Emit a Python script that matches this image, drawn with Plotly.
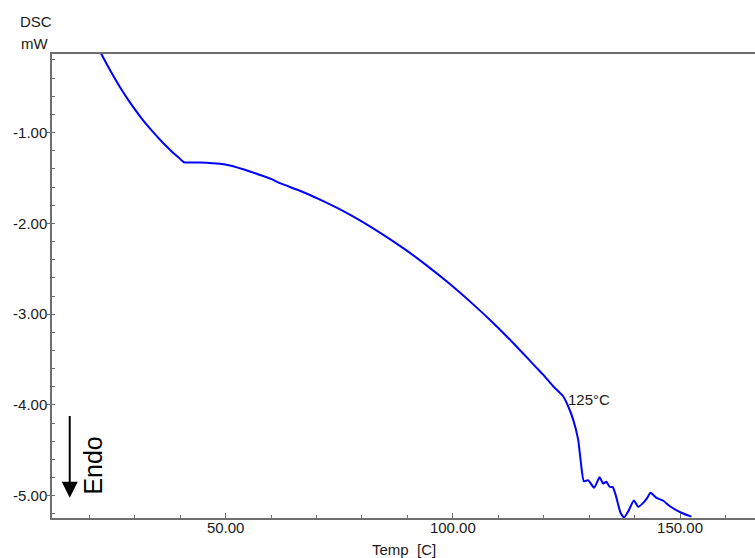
import plotly.graph_objects as go

temp = [22.56, 24.76, 26.96, 29.16, 31.36, 33.56, 35.76, 37.96, 39.72, 40.82, 44.35, 48.75,
        50.95, 55.35, 60.12, 61.95, 66.35, 71.47, 76.62, 82.47, 89.08, 94.22, 99.35, 104.48,
        108.88, 113.28, 116.95, 119.15, 119.88, 122.08, 124.28, 125.38, 126.48, 127.58, 128.1,
        128.83, 129.8, 131.1, 132.3, 133.08, 133.8, 134.5, 135.2, 135.8, 136.9, 137.7,
        138.6, 139.84, 140.78, 141.9, 142.8, 143.5, 144.8, 146.4, 147.7, 150.3, 152.5]
dsc = [-0.127, -0.330, -0.517, -0.684, -0.834, -0.968, -1.089, -1.199, -1.278, -1.326,
       -1.330, -1.344, -1.363, -1.429, -1.513, -1.557, -1.640, -1.754, -1.883, -2.054,
       -2.272, -2.462, -2.668, -2.892, -3.097, -3.317, -3.512, -3.629, -3.666, -3.794,
       -3.904, -4.014, -4.161, -4.381, -4.600, -4.839, -4.830, -4.912, -4.797, -4.866,
       -4.846, -4.901, -4.905, -4.985, -5.187, -5.239, -5.172, -5.052, -5.122, -5.078,
       -5.023, -4.968, -5.023, -5.058, -5.113, -5.187, -5.230]

x_ticks = [50, 100, 150]
y_ticks = [-1, -2, -3, -4, -5]

font = "Liberation Sans, Arial, sans-serif"
axis_col = "#6e6e6e"

fig = go.Figure()
fig.add_trace(go.Scatter(x=temp, y=dsc, mode="lines",
                         line=dict(color="#0000ff", width=2, shape="spline", smoothing=0.5),
                         hoverinfo="skip"))

fig.update_layout(
    width=755, height=558,
    margin=dict(l=52, r=0, t=54, b=40, autoexpand=False),
    paper_bgcolor="white", plot_bgcolor="white",
    showlegend=False,
    font=dict(family=font, size=15, color="#1a1a1a"),
)
fig.update_xaxes(
    range=[11.78, 166.5], showgrid=False, zeroline=False,
    showline=True, linecolor=axis_col, linewidth=1.5, mirror=True,
    tickvals=x_ticks, ticktext=[f"{v:.2f}" for v in x_ticks],
    ticks="inside", ticklen=5, tickcolor=axis_col,
    minor=dict(dtick=10, tick0=0, ticks="inside", ticklen=3, tickcolor=axis_col),
    tickfont=dict(family=font, size=15, color="#1a1a1a"),
    ticklabelstandoff=-5,
)
fig.update_yaxes(
    range=[-5.245, -0.134], showgrid=False, zeroline=False,
    showline=True, linecolor=axis_col, linewidth=1.5,
    tickvals=y_ticks, ticktext=[f"{v:.2f}" for v in y_ticks],
    ticks="outside", ticklen=3, tickcolor=axis_col,
    minor=dict(dtick=0.2, tick0=0, ticks="inside", ticklen=3, tickcolor=axis_col),
    tickfont=dict(family=font, size=15, color="#1a1a1a"),
    ticklabelstandoff=-3,
)

# axis labels
fig.add_annotation(text="DSC", xref="paper", yref="paper", x=0, y=1,
                   xanchor="left", yanchor="middle", xshift=-34, yshift=33,
                   showarrow=False, font=dict(family=font, size=15, color="#1a1a1a"))
fig.add_annotation(text="mW", xref="paper", yref="paper", x=0, y=1,
                   xanchor="left", yanchor="middle", xshift=-33, yshift=11,
                   showarrow=False, font=dict(family=font, size=15, color="#1a1a1a"))
fig.add_annotation(text="Temp  [C]", xref="paper", yref="paper", x=0.5, y=0,
                   xanchor="center", yanchor="middle", yshift=-31,
                   showarrow=False, font=dict(family=font, size=15, color="#1a1a1a"))

# peak label
fig.add_annotation(text="125°C", x=125.0, y=-3.943, xanchor="left", yanchor="middle",
                   showarrow=False, font=dict(family=font, size=15, color="#1a1a1a"))

# Endo arrow and label
fig.add_annotation(x=15.68, y=-5.022, ax=15.68, ay=-4.106, axref="x", ayref="y",
                   xref="x", yref="y", text="", showarrow=True,
                   arrowhead=2, arrowsize=1.6, arrowwidth=2, arrowcolor="black")
fig.add_annotation(text="Endo", x=20.6, y=-4.667, textangle=-90,
                   xanchor="center", yanchor="middle", showarrow=False,
                   font=dict(family=font, size=25, color="black"))

fig.write_html(
    "out.html",
    config={"displayModeBar": False},
    post_script="document.body.style.margin='0';document.body.style.overflow='hidden';",
)
